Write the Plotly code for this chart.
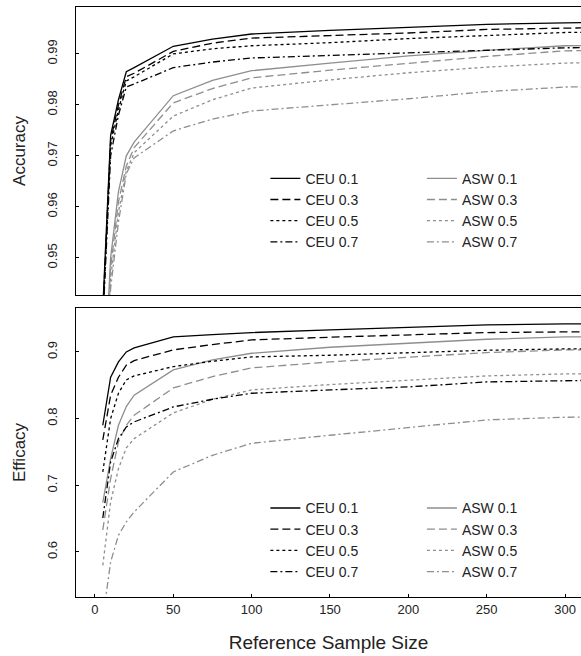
import plotly.graph_objects as go

# ---------------- data ----------------
sample_size = [5, 10, 15, 20, 25, 50, 75, 100, 150, 200, 250, 300, 350]

acc_ceu_01 = [0.940, 0.974, 0.981, 0.9865, 0.9873, 0.9915, 0.9929, 0.9939, 0.9946, 0.9952, 0.9958, 0.9961, 0.9962]
acc_ceu_03 = [0.939, 0.973, 0.980, 0.9855, 0.9862, 0.9905, 0.9921, 0.9931, 0.9936, 0.9941, 0.9948, 0.9952, 0.9953]
acc_ceu_05 = [0.938, 0.972, 0.979, 0.9847, 0.9855, 0.9900, 0.9910, 0.9916, 0.9922, 0.9930, 0.9936, 0.9942, 0.9943]
acc_ceu_07 = [0.937, 0.970, 0.978, 0.9835, 0.9841, 0.9873, 0.9884, 0.9892, 0.9897, 0.9902, 0.9908, 0.9912, 0.9913]
acc_asw_01 = [0.920, 0.950, 0.963, 0.9700, 0.9727, 0.9818, 0.9848, 0.9867, 0.9882, 0.9896, 0.9907, 0.9916, 0.9918]
acc_asw_03 = [0.918, 0.948, 0.961, 0.9680, 0.9716, 0.9804, 0.9832, 0.9853, 0.9868, 0.9882, 0.9895, 0.9906, 0.9908]
acc_asw_05 = [0.916, 0.946, 0.959, 0.9670, 0.9706, 0.9778, 0.9810, 0.9833, 0.9849, 0.9863, 0.9874, 0.9882, 0.9884]
acc_asw_07 = [0.914, 0.944, 0.957, 0.9665, 0.9696, 0.9749, 0.9772, 0.9788, 0.9800, 0.9812, 0.9826, 0.9835, 0.9837]

eff_ceu_01 = [0.790, 0.862, 0.885, 0.900, 0.906, 0.9225, 0.926, 0.929, 0.933, 0.937, 0.9405, 0.942, 0.9425]
eff_ceu_03 = [0.768, 0.835, 0.862, 0.880, 0.887, 0.903, 0.911, 0.918, 0.922, 0.9255, 0.929, 0.930, 0.9305]
eff_ceu_05 = [0.720, 0.800, 0.838, 0.858, 0.864, 0.878, 0.886, 0.8925, 0.895, 0.899, 0.9025, 0.9045, 0.905]
eff_ceu_07 = [0.651, 0.735, 0.770, 0.7875, 0.795, 0.8175, 0.829, 0.838, 0.843, 0.8475, 0.855, 0.858, 0.8585]
eff_asw_01 = [0.674, 0.740, 0.790, 0.818, 0.835, 0.873, 0.888, 0.898, 0.907, 0.9135, 0.919, 0.9225, 0.923]
eff_asw_03 = [0.633, 0.710, 0.765, 0.790, 0.805, 0.846, 0.863, 0.876, 0.885, 0.8925, 0.899, 0.903, 0.9035]
eff_asw_05 = [0.580, 0.675, 0.725, 0.756, 0.770, 0.8085, 0.829, 0.843, 0.851, 0.858, 0.864, 0.867, 0.8675]
eff_asw_07 = [0.500, 0.585, 0.625, 0.645, 0.660, 0.720, 0.745, 0.763, 0.775, 0.786, 0.798, 0.802, 0.803]

acc_ticks = [0.95, 0.96, 0.97, 0.98, 0.99]
eff_ticks = [0.6, 0.7, 0.8, 0.9]
x_ticks = [0, 50, 100, 150, 200, 250, 300]

labels = ["0.1", "0.3", "0.5", "0.7"]

# ---------------- styles ----------------
BLACK = "#000000"
GRAY = "#8e8e8e"
dashes = ["solid", "8px,4px", "3px,3px", "7px,3px,2px,3px"]
FONT = "Liberation Sans, Arial, sans-serif"

fig = go.Figure()

panels = [
    ("y", [acc_ceu_01, acc_ceu_03, acc_ceu_05, acc_ceu_07],
          [acc_asw_01, acc_asw_03, acc_asw_05, acc_asw_07], "legend", "legend2"),
    ("y2", [eff_ceu_01, eff_ceu_03, eff_ceu_05, eff_ceu_07],
           [eff_asw_01, eff_asw_03, eff_asw_05, eff_asw_07], "legend3", "legend4"),
]

for yax, ceu, asw, lg_c, lg_a in panels:
    xax = "x" if yax == "y" else "x2"
    for vals, lab, d in zip(asw, labels, dashes):
        fig.add_trace(go.Scatter(x=sample_size, y=vals, mode="lines", name="ASW " + lab,
                                 line=dict(color=GRAY, width=1.3, dash=d),
                                 xaxis=xax, yaxis=yax, legend=lg_a))
    for vals, lab, d in zip(ceu, labels, dashes):
        fig.add_trace(go.Scatter(x=sample_size, y=vals, mode="lines", name="CEU " + lab,
                                 line=dict(color=BLACK, width=1.3, dash=d),
                                 xaxis=xax, yaxis=yax, legend=lg_c))

axis_common = dict(showline=True, linecolor="#000", linewidth=1, showgrid=False,
                   zeroline=False, tickcolor="#000", ticklen=3, tickwidth=1,
                   tickfont=dict(size=13, color="#222", family=FONT))

leg_common = dict(bgcolor="rgba(0,0,0,0)", borderwidth=0, orientation="v",
                  xanchor="left", yanchor="top", traceorder="normal",
                  font=dict(size=14, color="#222", family=FONT))

fig.update_layout(
    width=581, height=656,
    margin=dict(l=76, r=0, t=7, b=59),
    paper_bgcolor="white", plot_bgcolor="white",
    font=dict(family=FONT, color="#222"),
    xaxis=dict(domain=[0, 1], anchor="y", range=[-12.1, 310.2], mirror=True,
               showticklabels=False, ticks="", matches="x2", **axis_common),
    yaxis=dict(domain=[0.5119, 1.0], anchor="x", range=[0.9427, 0.9992],
               tickvals=acc_ticks, tickformat=".2f", tickangle=-90, ticks="inside",
               ticklabelstandoff=13, mirror=False,
               title=dict(text="Accuracy", font=dict(size=17, color="#222", family=FONT), standoff=14),
               **axis_common),
    xaxis2=dict(domain=[0, 1], anchor="y2", range=[-12.1, 310.2], mirror=True,
                tickvals=x_ticks, ticks="inside",
                title=dict(text="Reference Sample Size", font=dict(size=19, color="#222", family=FONT), standoff=20),
                **axis_common),
    yaxis2=dict(domain=[0.0, 0.4898], anchor="x2", range=[0.5325, 0.9658],
                tickvals=eff_ticks, tickformat=".1f", tickangle=-90, ticks="inside",
                ticklabelstandoff=13, mirror=False,
                title=dict(text="Efficacy", font=dict(size=17, color="#222", family=FONT), standoff=14),
                **axis_common),
    legend=dict(x=0.375, y=0.7361, **leg_common),
    legend2=dict(x=0.685, y=0.7361, **leg_common),
    legend3=dict(x=0.375, y=0.1773, **leg_common),
    legend4=dict(x=0.685, y=0.1773, **leg_common),
)

fig.write_html("out.html")
